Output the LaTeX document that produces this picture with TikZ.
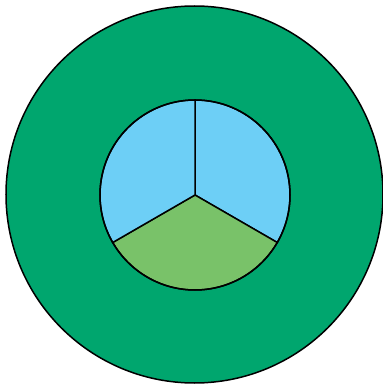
\documentclass[tikz,border=0pt]{standalone}
\usepackage{tikz}
\usetikzlibrary{calc}
\definecolor{ringgreen}{HTML}{00A66E}
\definecolor{skyblue}{HTML}{6DCFF6}
\definecolor{grassgreen}{HTML}{79C269}

\begin{document}
\begin{tikzpicture}[x=1pt,y=1pt]
\useasboundingbox (0,0) rectangle (383,384);
\clip (0,0) rectangle (383,384);
\coordinate (c) at (194.5,189.5);
\coordinate (m) at (195,189);
\draw[fill=ringgreen,line width = 1.5pt] (c) circle (188.5);
\draw[fill=skyblue,line width = 1.5pt] (m) -- ++(90:95) arc (90:-30:95) -- cycle;
\draw[fill=grassgreen,line width = 1.5pt] (m) -- ++(-30:95) arc (-30:-150:95) -- cycle;
\draw[fill=skyblue,line width = 1.5pt] (m) -- ++(210:95) arc (210:90:95) -- cycle;
\draw[line width = 1.5pt] (m) circle (95);
\end{tikzpicture}
\end{document}
